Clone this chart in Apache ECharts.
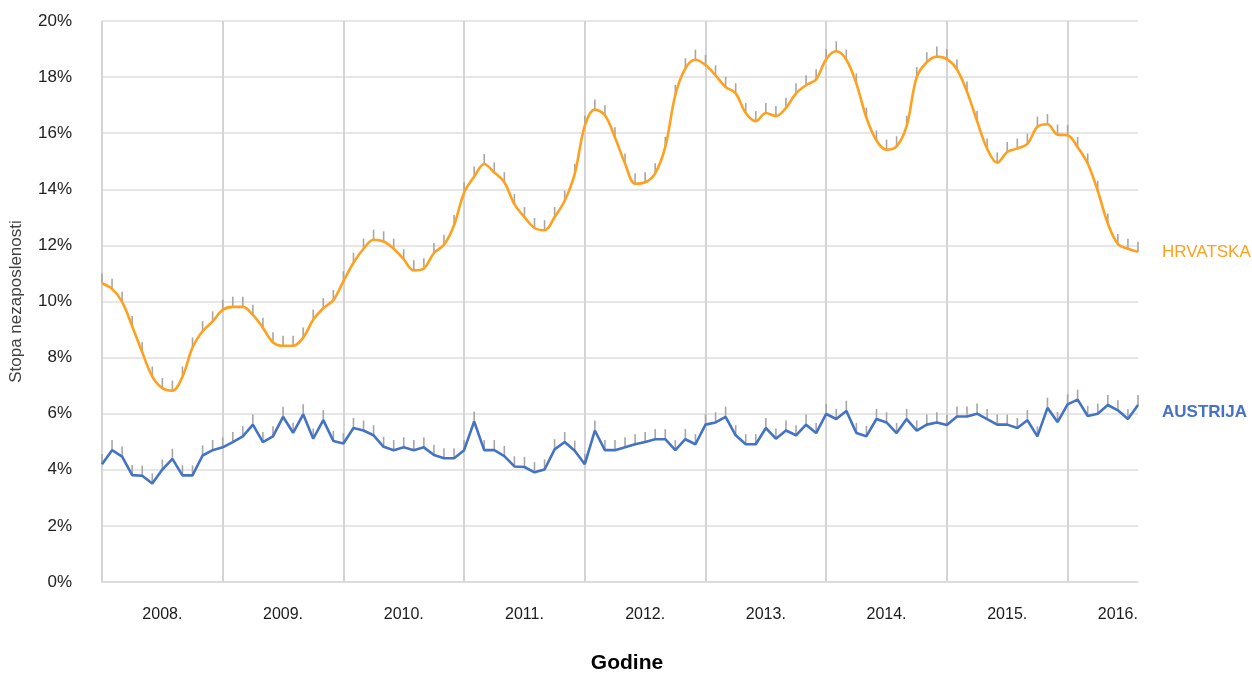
<!DOCTYPE html>
<html>
<head>
<meta charset="utf-8">
<script src="https://cdn.jsdelivr.net/npm/echarts@6/dist/echarts.min.js"></script>
<style>
html,body{margin:0;padding:0;background:#fff;}
#c{width:1252px;height:679px;}
</style>
</head>
<body>
<div id="c"></div>
<script>
// Months Jan 2008 – Aug 2016
const years = [2008, 2009, 2010, 2011, 2012, 2013, 2014, 2015, 2016];
const lastYearMonths = 8;
const months = [];
years.forEach(function (y) {
  const n = (y === 2016) ? lastYearMonths : 12;
  for (let m = 1; m <= n; m++) months.push(y + '-' + (m < 10 ? '0' + m : m));
});

const hrvatska = [
  10.65, 10.45, 9.99, 9.12, 8.19, 7.32, 6.91, 6.82, 7.32, 8.36, 8.94, 9.29,
  9.70, 9.81, 9.81, 9.52, 9.06, 8.54, 8.42, 8.42, 8.71, 9.35, 9.76, 10.05,
  10.72, 11.38, 11.88, 12.20, 12.14, 11.88, 11.50, 11.11, 11.18, 11.73, 12.02, 12.72,
  13.88, 14.45, 14.90, 14.60, 14.25, 13.47, 13.01, 12.62, 12.54, 13.01, 13.59, 14.55,
  16.26, 16.84, 16.64, 15.85, 14.92, 14.20, 14.25, 14.57, 15.51, 17.36, 18.31, 18.62,
  18.43, 18.06, 17.65, 17.42, 16.72, 16.43, 16.72, 16.61, 16.90, 17.42, 17.71, 17.92,
  18.64, 18.92, 18.62, 17.77, 16.55, 15.74, 15.41, 15.53, 16.26, 18.00, 18.53, 18.73,
  18.64, 18.27, 17.48, 16.43, 15.45, 14.95, 15.33, 15.45, 15.62, 16.23, 16.32, 15.95,
  15.93, 15.50, 14.92, 13.94, 12.78, 12.05, 11.88, 11.77
];

const austrija = [
  4.20, 4.70, 4.47, 3.81, 3.79, 3.51, 4.01, 4.39, 3.80, 3.80, 4.51, 4.70,
  4.80, 4.99, 5.19, 5.61, 4.99, 5.19, 5.89, 5.32, 5.98, 5.11, 5.77, 5.03,
  4.94, 5.49, 5.40, 5.23, 4.82, 4.70, 4.80, 4.70, 4.80, 4.53, 4.41, 4.41,
  4.70, 5.72, 4.70, 4.70, 4.49, 4.12, 4.10, 3.91, 4.01, 4.73, 4.99, 4.68,
  4.20, 5.40, 4.70, 4.70, 4.80, 4.91, 4.99, 5.09, 5.09, 4.70, 5.09, 4.91,
  5.61, 5.69, 5.89, 5.23, 4.91, 4.91, 5.49, 5.11, 5.40, 5.23, 5.61, 5.31,
  5.99, 5.81, 6.10, 5.31, 5.20, 5.81, 5.69, 5.31, 5.81, 5.40, 5.61, 5.69,
  5.60, 5.90, 5.90, 6.00, 5.81, 5.61, 5.61, 5.49, 5.77, 5.19, 6.21, 5.70,
  6.33, 6.50, 5.92, 6.00, 6.31, 6.12, 5.81, 6.31
];

// error bar (plus direction) in percentage points
const errorPlus = 0.36;

const yTicks = [0, 2, 4, 6, 8, 10, 12, 14, 16, 18, 20];
const seriesNames = ['HRVATSKA', 'AUSTRIJA'];
const axisNames = { x: 'Godine', y: 'Stopa nezaposlenosti' };

const FONT = '"Liberation Sans Narrow", "Liberation Sans", Arial, sans-serif';
const ORANGE = '#FFA01E';
const BLUE = '#4472C4';

function errData(arr) { return arr.map(function (v, i) { return [i, v]; }); }

function errRender(params, api) {
  const i = api.value(0), v = api.value(1);
  const p0 = api.coord([i, v]);
  const p1 = api.coord([i, v + errorPlus]);
  return {
    type: 'line',
    shape: { x1: p0[0], y1: p0[1], x2: p1[0], y2: p1[1] },
    style: { stroke: '#a6a6a6', lineWidth: 1.6 }
  };
}

// label positions: middle of each year's span
function labelIndex(idx) {
  if (idx >= 96) return idx === 101;
  return idx % 12 === 6;
}

const chart = echarts.init(document.getElementById('c'), null, { renderer: 'canvas' });
chart.setOption({
  animation: false,
  backgroundColor: '#ffffff',
  grid: { left: 102, right: 114, top: 21, bottom: 73, containLabel: false },
  xAxis: {
    type: 'category',
    data: months,
    boundaryGap: false,
    name: axisNames.x,
    nameLocation: 'middle',
    nameGap: 71,
    nameTextStyle: { fontFamily: FONT, fontSize: 21, fontWeight: 'bold', color: '#000', padding: [0, 0, 0, 14] },
    axisLine: { show: true, lineStyle: { color: '#d9d9d9', width: 1.5 } },
    axisTick: { show: false },
    axisLabel: {
      interval: function (idx) { return labelIndex(idx); },
      formatter: function (v) { return v.slice(0, 4) + '.'; },
      margin: 25,
      fontFamily: FONT, fontSize: 16, color: '#1a1a1a'
    },
    splitLine: {
      show: true,
      interval: function (idx) { return idx % 12 === 0; },
      lineStyle: { color: '#d4d4d4', width: 2 }
    }
  },
  yAxis: {
    type: 'value',
    min: 0, max: 20, interval: 2,
    name: axisNames.y,
    nameLocation: 'middle',
    nameGap: 77,
    nameRotate: 90,
    nameTextStyle: { fontFamily: FONT, fontSize: 17, color: '#404040' },
    axisLine: { show: false },
    axisTick: { show: false },
    axisLabel: {
      formatter: function (v) { return yTicks.indexOf(v) >= 0 ? v + '%' : ''; },
      margin: 30,
      fontFamily: FONT, fontSize: 17, color: '#222'
    },
    splitLine: { show: true, lineStyle: { color: '#dedede', width: 1.5 } }
  },
  series: [
    {
      type: 'custom', name: 'errH', renderItem: errRender, data: errData(hrvatska),
      encode: { x: 0, y: 1 }, z: 1, silent: true
    },
    {
      type: 'custom', name: 'errA', renderItem: errRender, data: errData(austrija),
      encode: { x: 0, y: 1 }, z: 1, silent: true
    },
    {
      type: 'line', name: seriesNames[0], data: hrvatska, smooth: 0.35,
      showSymbol: false, z: 3,
      lineStyle: { color: ORANGE, width: 2.6 },
      itemStyle: { color: ORANGE },
      endLabel: {
        show: true, formatter: seriesNames[0], distance: 24,
        fontFamily: FONT, fontSize: 17, color: ORANGE
      }
    },
    {
      type: 'line', name: seriesNames[1], data: austrija, smooth: false,
      showSymbol: false, z: 3,
      lineStyle: { color: BLUE, width: 2.6 },
      itemStyle: { color: BLUE },
      endLabel: {
        show: true, formatter: seriesNames[1], distance: 24, offset: [0, 7],
        fontFamily: FONT, fontSize: 17, fontWeight: 'bold', color: BLUE
      }
    }
  ]
});
</script>
</body>
</html>
